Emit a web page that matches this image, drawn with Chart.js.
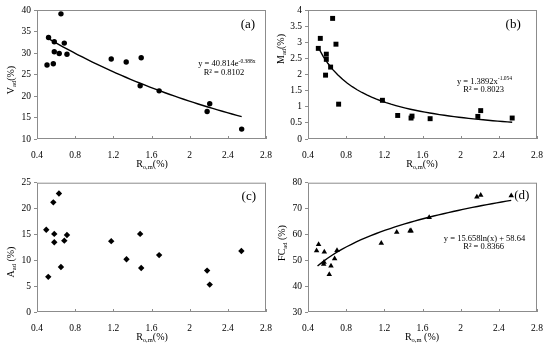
<!DOCTYPE html>
<html>
<head>
<meta charset="utf-8">
<title>Ro,m scatter panels</title>
<script src="https://cdn.jsdelivr.net/npm/chart.js"></script>
<style>
  body { margin: 0; background: #fff; }
  .panel { position: absolute; width: 275px; height: 174px; }
</style>
</head>
<body>
<div class="panel" style="left:0;top:0"><canvas id="chartA" width="275" height="174"></canvas></div>
<div class="panel" style="left:275px;top:0"><canvas id="chartB" width="275" height="174"></canvas></div>
<div class="panel" style="left:0;top:174px"><canvas id="chartC" width="275" height="174"></canvas></div>
<div class="panel" style="left:275px;top:174px"><canvas id="chartD" width="275" height="174"></canvas></div>
<script>
// values
const xTicks = [0.4, 0.8, 1.2, 1.6, 2, 2.4, 2.8];

const rankA = [0.505, 0.521, 0.571, 0.581, 0.581, 0.633, 0.651, 0.686, 0.714, 1.178, 1.335, 1.481, 1.492, 1.68, 2.183, 2.21, 2.545];
const vad = [27.2, 33.6, 27.5, 32.6, 30.3, 29.9, 39.1, 32.3, 29.7, 28.6, 27.9, 22.4, 28.9, 21.2, 16.4, 18.2, 12.3];

const rankB = [0.508, 0.529, 0.584, 0.592, 0.592, 0.637, 0.658, 0.693, 0.721, 1.18, 1.34, 1.48, 1.49, 1.68, 2.18, 2.21, 2.54];
const mad = [2.81, 3.12, 1.98, 2.63, 2.47, 2.23, 3.74, 2.94, 1.08, 1.20, 0.73, 0.65, 0.71, 0.63, 0.70, 0.88, 0.65];

const rankC = [0.497, 0.518, 0.571, 0.581, 0.581, 0.63, 0.651, 0.686, 0.714, 1.178, 1.338, 1.481, 1.492, 1.68, 2.183, 2.21, 2.542];
const aad = [15.9, 6.8, 21.2, 15.1, 13.5, 22.9, 8.7, 13.8, 14.9, 13.7, 10.2, 15.1, 8.5, 11.0, 8.0, 5.3, 11.8];

const rankD = [0.49, 0.511, 0.564, 0.568, 0.571, 0.623, 0.641, 0.679, 0.704, 1.168, 1.33, 1.47, 1.48, 1.67, 2.17, 2.21, 2.53];
const fcad = [53.7, 56.1, 48.5, 49.3, 53.2, 44.5, 47.8, 50.6, 53.8, 56.6, 60.9, 61.4, 61.4, 66.6, 74.5, 75.2, 75.0];

// trendline coefficients as printed on the chart
const expFit = [40.814, -0.388];   // y = a*e^(b x)
const powFit = [1.3892, -1.054];   // y = a*x^b
const logFit = [15.658, 58.64];    // y = a*ln(x) + b

const SERIF = '"Liberation Serif", "Times New Roman", serif';
const GRAY = '#8c8c8c';

function curve(f, x0, x1) {
    const pts = [];
    for (let i = 0; i <= 40; i++) {
        const x = x0 + (x1 - x0) * i / 40;
        pts.push({ x: x, y: f(x) });
    }
    return pts;
}

// text with sub/superscript pieces, centred on (x, y)
function drawRich(ctx, parts, x, y, size, rotate) {
    ctx.save();
    ctx.translate(x, y);
    if (rotate) ctx.rotate(-Math.PI / 2);
    ctx.fillStyle = '#000';
    ctx.textBaseline = 'middle';
    ctx.textAlign = 'left';
    let w = 0;
    parts.forEach(p => {
        ctx.font = (p.sub || p.sup ? size * 0.65 : size) + 'px ' + SERIF;
        p.w = ctx.measureText(p.t).width;
        w += p.w;
    });
    let cx = -w / 2;
    parts.forEach(p => {
        ctx.font = (p.sub || p.sup ? size * 0.65 : size) + 'px ' + SERIF;
        const dy = p.sub ? size * 0.3 : p.sup ? -size * 0.3 : 0;
        ctx.fillText(p.t, cx, dy);
        cx += p.w;
    });
    ctx.restore();
}

const panelDecor = {
    id: 'panelDecor',
    beforeDatasetsDraw(chart, args, o) {
        const ctx = chart.ctx, a = chart.chartArea, xs = chart.scales.x;
        ctx.save();
        ctx.strokeStyle = GRAY;
        ctx.lineWidth = 1;
        ctx.strokeRect(a.left + 0.5, a.top + 0.5, a.right - a.left - 1, a.bottom - a.top - 1);
        ctx.beginPath();
        xTicks.forEach(v => {
            const px = Math.round(xs.getPixelForValue(v)) + 0.5;
            ctx.moveTo(px, a.bottom);
            ctx.lineTo(px, a.bottom - 3);
        });
        ctx.stroke();
        ctx.restore();
    },
    afterDraw(chart, args, o) {
        const ctx = chart.ctx, a = chart.chartArea;
        const xs = chart.scales.x, ys = chart.scales.y;
        drawRich(ctx, o.yTitle, o.yTitleX, o.yTitleY, 10, true);
        drawRich(ctx, o.xTitle, o.xTitleX, a.bottom + 25, 10, false);
        o.eq.forEach(e => {
            drawRich(ctx, e.parts, xs.getPixelForValue(e.x), ys.getPixelForValue(e.y), 8.5, false);
        });
        drawRich(ctx, [{ t: o.label[0] }], xs.getPixelForValue(o.label[1]), ys.getPixelForValue(o.label[2]), 13, false);
    }
};

function makePanel(id, cfg) {
    const pts = cfg.xs.map((x, i) => ({ x: x, y: cfg.ys[i] }));
    const datasets = [{
        data: pts,
        pointStyle: cfg.marker,
        pointRadius: cfg.radius,
        pointBackgroundColor: '#000',
        pointBorderColor: '#000',
        pointBorderWidth: 0,
        showLine: false
    }];
    if (cfg.fit) {
        datasets.push({
            data: cfg.fit,
            showLine: true,
            pointRadius: 0,
            borderColor: '#000',
            borderWidth: 1.4,
            fill: false
        });
    }
    new Chart(document.getElementById(id), {
        type: 'scatter',
        data: { datasets: datasets },
        plugins: [panelDecor],
        options: {
            responsive: false,
            animation: false,
            devicePixelRatio: 1,
            layout: { padding: { left: 0, top: cfg.top, right: cfg.right, bottom: 0 } },
            plugins: {
                legend: { display: false },
                tooltip: { enabled: false },
                panelDecor: cfg.decor
            },
            scales: {
                x: {
                    type: 'linear',
                    min: 0.4, max: 2.8,
                    afterBuildTicks: s => { s.ticks = xTicks.map(v => ({ value: v })); },
                    afterFit: s => { s.height = cfg.xHeight; },
                    grid: { display: false },
                    border: { display: false },
                    ticks: {
                        padding: 3,
                        color: '#000',
                        font: { family: SERIF, size: 9.5 },
                        callback: v => String(+v.toFixed(1))
                    }
                },
                y: {
                    type: 'linear',
                    min: cfg.yMin, max: cfg.yMax,
                    afterFit: s => { s.width = cfg.yWidth; },
                    grid: { drawOnChartArea: false, drawTicks: true, tickLength: 3, color: GRAY },
                    border: { display: false },
                    ticks: {
                        stepSize: cfg.yStep,
                        padding: 3,
                        color: '#000',
                        font: { family: SERIF, size: 9.5 },
                        callback: v => String(+v.toFixed(1))
                    }
                }
            }
        }
    });
}

const rTitle = [{ t: 'R' }, { t: 'o,m', sub: true }, { t: '(%)' }];

makePanel('chartA', {
    xs: rankA, ys: vad, marker: 'circle', radius: 2.7,
    yMin: 10, yMax: 40, yStep: 5,
    top: 10, right: 9, yWidth: 37, xHeight: 35,
    fit: curve(x => expFit[0] * Math.exp(expFit[1] * x), 0.52, 2.545),
    decor: {
        yTitle: [{ t: 'V' }, { t: 'ad', sub: true }, { t: '(%)' }], yTitleX: 11, yTitleY: 80,
        xTitle: rTitle, xTitleX: 152,
        eq: [
            { x: 2.39, y: 27.5, parts: [{ t: 'y = 40.814e' }, { t: '-0.388x', sup: true }] },
            { x: 2.36, y: 25.45, parts: [{ t: 'R² = 0.8102' }] }
        ],
        label: ['(a)', 2.61, 36.7]
    }
});

makePanel('chartB', {
    xs: rankB, ys: mad, marker: 'rect', radius: 3.5,
    yMin: 0, yMax: 4, yStep: 0.5,
    top: 10, right: 13, yWidth: 33, xHeight: 35,
    fit: curve(x => powFit[0] * Math.pow(x, powFit[1]), 0.508, 2.54),
    decor: {
        yTitle: [{ t: 'M' }, { t: 'ad', sub: true }, { t: '(%)' }], yTitleX: 6, yTitleY: 49,
        xTitle: rTitle, xTitleX: 147,
        eq: [
            { x: 2.25, y: 1.78, parts: [{ t: 'y = 1.3892x' }, { t: '-1.054', sup: true }] },
            { x: 2.24, y: 1.52, parts: [{ t: 'R² = 0.8023' }] }
        ],
        label: ['(b)', 2.55, 3.55]
    }
});

makePanel('chartC', {
    xs: rankC, ys: aad, marker: 'rectRot', radius: 3.2,
    yMin: 0, yMax: 25, yStep: 5,
    top: 1, right: 9, yWidth: 37, xHeight: 36,
    fit: null,
    decor: {
        yTitle: [{ t: 'A' }, { t: 'ad', sub: true }, { t: ' (%)' }], yTitleX: 11, yTitleY: 88,
        xTitle: rTitle, xTitleX: 152,
        eq: [],
        label: ['(c)', 2.62, 22.4]
    }
});

makePanel('chartD', {
    xs: rankD, ys: fcad, marker: 'triangle', radius: 3.2,
    yMin: 30, yMax: 80, yStep: 5,
    top: 2, right: 13, yWidth: 33, xHeight: 36,
    fit: curve(x => logFit[0] * Math.log(x) + logFit[1], 0.5, 2.53),
    decor: {
        yTitle: [{ t: 'FC' }, { t: 'ad', sub: true }, { t: ' (%)' }], yTitleX: 7, yTitleY: 69,
        xTitle: [{ t: 'R' }, { t: 'o,m', sub: true }, { t: ' (%)' }], xTitleX: 147,
        eq: [
            { x: 2.25, y: 58.2, parts: [{ t: 'y = 15.658ln(x) + 58.64' }] },
            { x: 2.24, y: 55.1, parts: [{ t: 'R² = 0.8366' }] }
        ],
        label: ['(d)', 2.64, 75.1]
    }
});
</script>
</body>
</html>
